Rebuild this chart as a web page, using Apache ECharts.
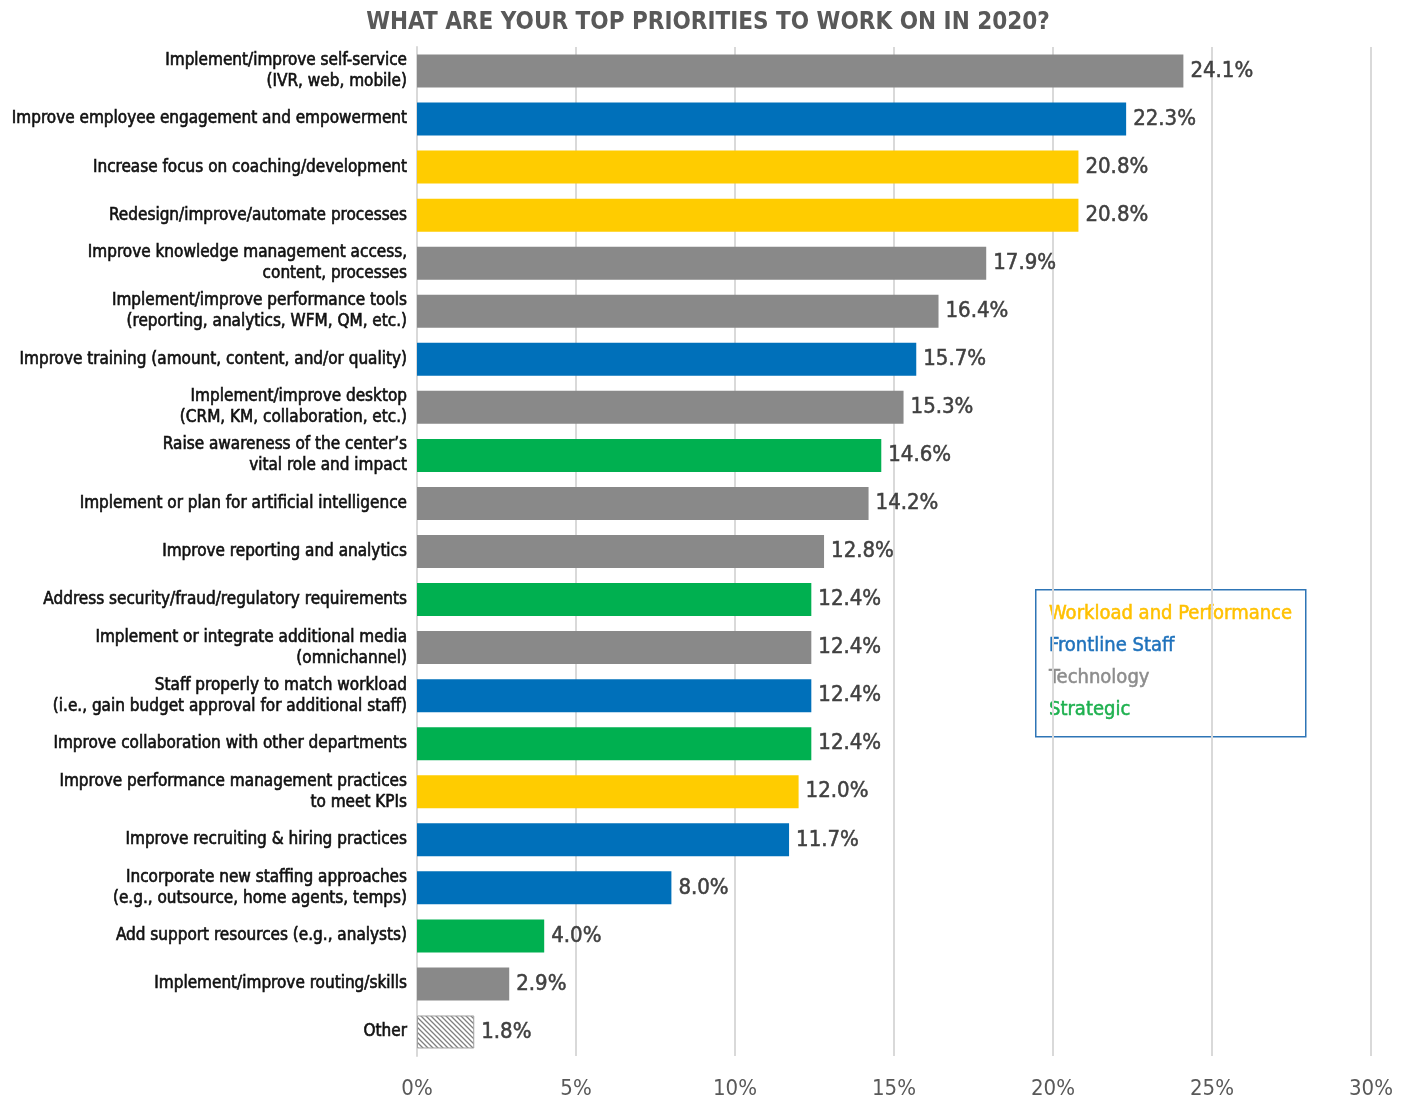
<!DOCTYPE html>
<html>
<head>
<meta charset="utf-8">
<script src="https://cdn.jsdelivr.net/npm/echarts@6/dist/echarts.min.js"></script>
<style>
  html, body { margin: 0; padding: 0; background: #fff; }
  #chart { width: 1407px; height: 1099px; }
</style>
</head>
<body>
<div id="chart"></div>
<script>
// Priorities, listed top to bottom
const categories = [
  'Implement/improve self-service\n(IVR, web, mobile)',
  'Improve employee engagement and empowerment',
  'Increase focus on coaching/development',
  'Redesign/improve/automate processes',
  'Improve knowledge management access,\ncontent, processes',
  'Implement/improve performance tools\n(reporting, analytics, WFM, QM, etc.)',
  'Improve training (amount, content, and/or quality)',
  'Implement/improve desktop\n(CRM, KM, collaboration, etc.)',
  'Raise awareness of the center\u2019s\nvital role and impact',
  'Implement or plan for artificial intelligence',
  'Improve reporting and analytics',
  'Address security/fraud/regulatory requirements',
  'Implement or integrate additional media\n(omnichannel)',
  'Staff properly to match workload\n(i.e., gain budget approval for additional staff)',
  'Improve collaboration with other departments',
  'Improve performance management practices\nto meet KPIs',
  'Improve recruiting & hiring practices',
  'Incorporate new staffing approaches\n(e.g., outsource, home agents, temps)',
  'Add support resources (e.g., analysts)',
  'Implement/improve routing/skills',
  'Other'
];

const values = [24.1, 22.3, 20.8, 20.8, 17.9, 16.4, 15.7, 15.3, 14.6, 14.2, 12.8,
                12.4, 12.4, 12.4, 12.4, 12.0, 11.7, 8.0, 4.0, 2.9, 1.8];

// Group of each priority: W = Workload and Performance, F = Frontline Staff,
// T = Technology, S = Strategic, O = Other
const groups = ['T', 'F', 'W', 'W', 'T', 'T', 'F', 'T', 'S', 'T', 'T',
                'S', 'T', 'F', 'S', 'W', 'F', 'F', 'S', 'T', 'O'];

const groupNames = ['Workload and Performance', 'Frontline Staff', 'Technology', 'Strategic'];
const groupKeys = ['W', 'F', 'T', 'S'];

const palette = {
  W: '#FFCC00',
  F: '#0070BA',
  T: '#898989',
  S: '#00B050'
};
const legendText = {
  W: '#FFC000',
  F: '#1F72BC',
  T: '#8C8C8C',
  S: '#1DB04E'
};

// Hatched fill for "Other"
function hatchPattern() {
  const c = document.createElement('canvas');
  c.width = 5; c.height = 5;
  const g = c.getContext('2d');
  g.fillStyle = '#ffffff';
  g.fillRect(0, 0, 5, 5);
  g.strokeStyle = '#7f7f7f';
  g.lineWidth = 1.3;
  g.beginPath();
  g.moveTo(0, 0); g.lineTo(5, 5);
  g.moveTo(-2.5, 2.5); g.lineTo(2.5, 7.5);
  g.moveTo(2.5, -2.5); g.lineTo(7.5, 2.5);
  g.stroke();
  return c;
}

const FONT = '"Liberation Sans Narrow", "DejaVu Sans Condensed", "Roboto Condensed", Arial, sans-serif';

const barData = values.map((v, i) => {
  const g = groups[i];
  if (g === 'O') {
    return {
      value: v,
      itemStyle: {
        color: { image: hatchPattern(), repeat: 'repeat' },
        borderColor: '#a0a0a0',
        borderWidth: 1
      }
    };
  }
  return { value: v, itemStyle: { color: palette[g] } };
});

const chart = echarts.init(document.getElementById('chart'), null, { renderer: 'canvas' });

const legendItems = groupKeys.map((k, i) => ({
  type: 'text',
  left: 13,
  top: 14 + i * 32,
  style: {
    text: groupNames[i],
    fill: legendText[k],
    font: '20px ' + FONT,
    stroke: legendText[k],
    lineWidth: 0.5
  }
}));

chart.setOption({
  animation: false,
  backgroundColor: '#ffffff',
  title: {
    text: 'WHAT ARE YOUR TOP PRIORITIES TO WORK ON IN 2020?',
    left: 703,
    textAlign: 'center',
    top: 6,
    textStyle: {
      fontFamily: FONT,
      fontSize: 24,
      fontWeight: 'bold',
      color: '#595959'
    }
  },
  grid: {
    left: 417,
    right: 36,
    top: 47,
    bottom: 43,
    containLabel: false,
    outerBoundsMode: 'none'
  },
  xAxis: {
    type: 'value',
    min: 0,
    max: 30,
    interval: 5,
    axisLine: { show: false },
    axisTick: { show: false },
    splitLine: { show: true, lineStyle: { color: '#d9d9d9', width: 2 } },
    axisLabel: {
      formatter: '{value}%',
      fontFamily: FONT,
      fontSize: 22,
      color: '#595959',
      margin: 22
    }
  },
  yAxis: {
    type: 'category',
    inverse: true,
    data: categories,
    axisLine: { show: true, lineStyle: { color: '#d9d9d9', width: 2 } },
    axisTick: { show: false },
    axisLabel: {
      fontFamily: FONT,
      fontSize: 17,
      color: '#111111',
      textBorderColor: '#111111',
      textBorderWidth: 0.6,
      lineHeight: 21,
      margin: 10,
      align: 'right'
    }
  },
  series: [{
    type: 'bar',
    data: barData,
    barWidth: 33,
    label: {
      show: true,
      position: 'right',
      distance: 7,
      formatter: p => p.value.toFixed(1) + '%',
      fontFamily: FONT,
      fontSize: 22,
      color: '#404040',
      textBorderColor: '#404040',
      textBorderWidth: 0.5
    }
  }],
  graphic: [{
    type: 'group',
    left: 1035,
    top: 589,
    children: [{
      type: 'rect',
      shape: { x: 0, y: 0, width: 270, height: 147 },
      style: { fill: '#ffffff', stroke: '#2E75B6', lineWidth: 1.5 }
    }].concat(legendItems)
  }]
});
</script>
</body>
</html>
